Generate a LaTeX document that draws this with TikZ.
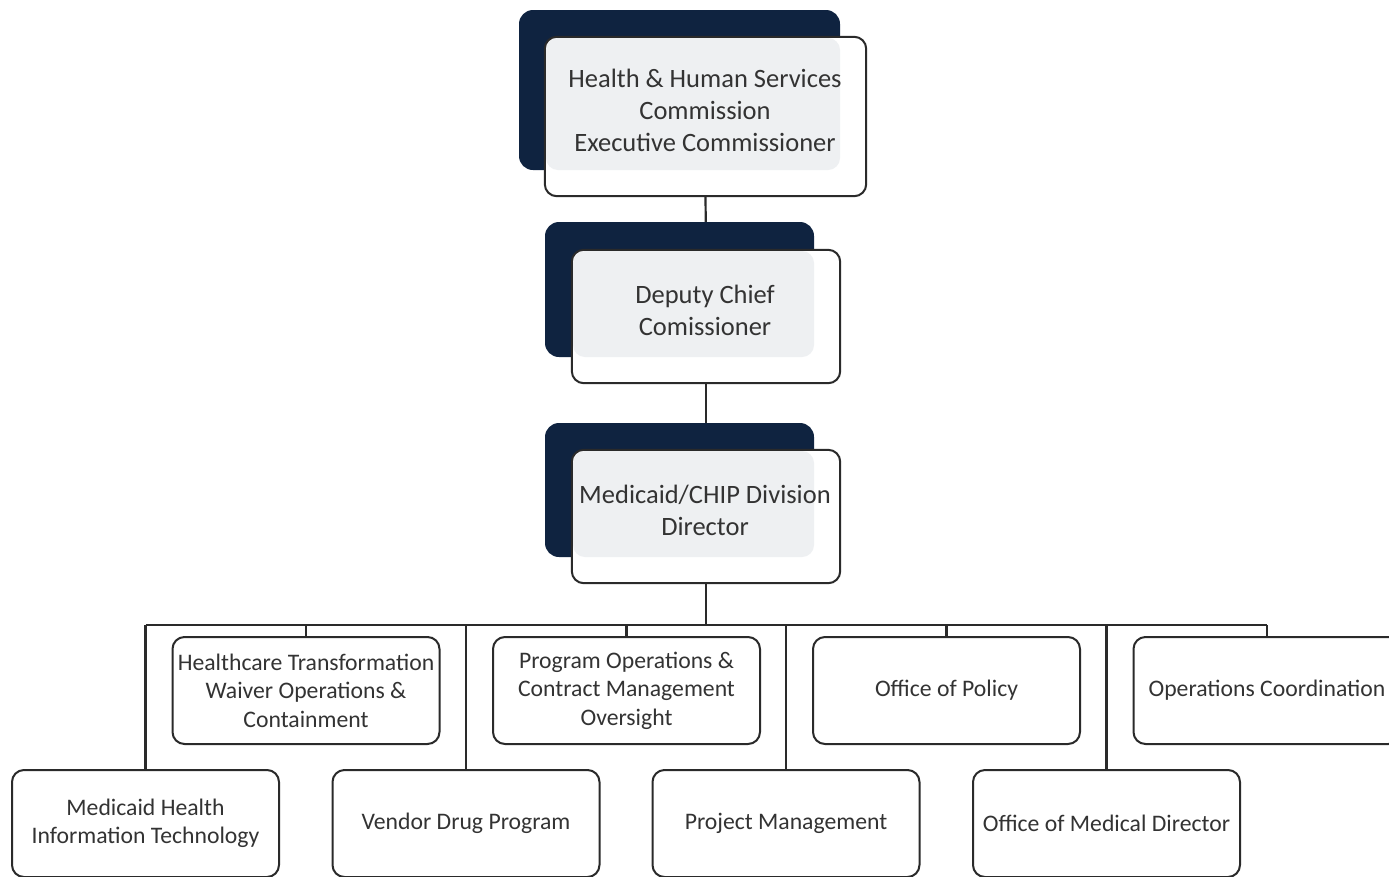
\documentclass[tikz,border=0pt]{standalone}
\usepackage{fontspec}
\setmainfont{Carlito}
\usetikzlibrary{backgrounds}
\definecolor{navy}{HTML}{0F2340}
\definecolor{txt}{HTML}{333333}
\definecolor{shade}{HTML}{EEF0F2}
\definecolor{edge}{HTML}{2A2A2A}
\begin{document}
\begin{tikzpicture}[x=1pt,y=-1pt,
  darkbox/.style={fill=navy,rounded corners=14pt},
  shadebox/.style={fill=shade,rounded corners=12pt},
  bigbox/.style={fill=white,rounded corners=12pt,inner sep=0pt},
  rim/.style={draw=edge,line width=2pt,rounded corners=12pt},
  bigtext/.style={text=txt,align=center,font=\fontsize{26.5}{32}\selectfont},
  unitbox/.style={draw=edge,line width=2pt,fill=white,rounded corners=12pt,
    minimum width=267pt,minimum height=107pt,inner sep=0pt,text=txt,align=center,
    font=\fontsize{23.7}{28.5}\selectfont},
  wire/.style={draw=edge,line width=2.2pt}]
\useasboundingbox (0,0) rectangle (1389,876);
% top
\fill[darkbox] (519,10) rectangle (840,170);
\node[bigbox,minimum width=321pt,minimum height=159pt] (hhsc) at (705.5,116.5) {};
\fill[shadebox] (546,38) rectangle (840,170);
\draw[rim] (hhsc.north west) rectangle (hhsc.south east);
\node[bigtext] (hhsct) at (705,110) {Health \& Human Services\\Commission\\Executive Commissioner};
% deputy
\fill[darkbox] (545,222) rectangle (814,357);
\node[bigbox,minimum width=268pt,minimum height=133pt] (dep) at (706,316.5) {};
\fill[shadebox] (573,251) rectangle (814,357);
\draw[rim] (dep.north west) rectangle (dep.south east);
\node[bigtext] (dept) at (705,310) {Deputy Chief\\Comissioner};
% medicaid director
\fill[darkbox] (545,423) rectangle (814,557);
\node[bigbox,minimum width=268pt,minimum height=133pt] (mcd) at (706,516.5) {};
\fill[shadebox] (573,451) rectangle (814,557);
\draw[rim] (mcd.north west) rectangle (mcd.south east);
\node[bigtext] (mcdt) at (705,510) {Medicaid/CHIP Division\\Director};
% units top row
\node[unitbox] (htw) at (306,690.5) {Healthcare Transformation\\Waiver Operations \&\\Containment};
\node[unitbox] (poc) at (626.5,690.5) {Program Operations \&\\Contract Management\\Oversight};
\node[unitbox] (pol) at (946.5,690.5) {Office of Policy};
\node[unitbox] (oc) at (1267,690.5) {Operations Coordination};
% units bottom row
\node[unitbox] (hit) at (145.5,823.5) {Medicaid Health\\Information Technology};
\node[unitbox] (vdp) at (466,823.5) {Vendor Drug Program};
\node[unitbox] (pm) at (786,823.5) {Project Management};
\node[unitbox] (omd) at (1106.5,823.5) {Office of Medical Director};
\coordinate (bus) at (706,625);
\begin{pgfonlayer}{background}
\draw[wire] (hhsc.south) -- (dep.north);
\draw[wire] (dep.south) -- (mcd.north);
\draw[wire] (mcd.south) -- (bus);
\draw[wire] (bus -| hit.north) -- (bus -| oc.north);
\foreach \u in {hit,htw,vdp,poc,pm,pol,omd,oc}{
  \draw[wire] (bus -| \u.north) -- (\u.north);
}
\end{pgfonlayer}
\end{tikzpicture}
\end{document}
